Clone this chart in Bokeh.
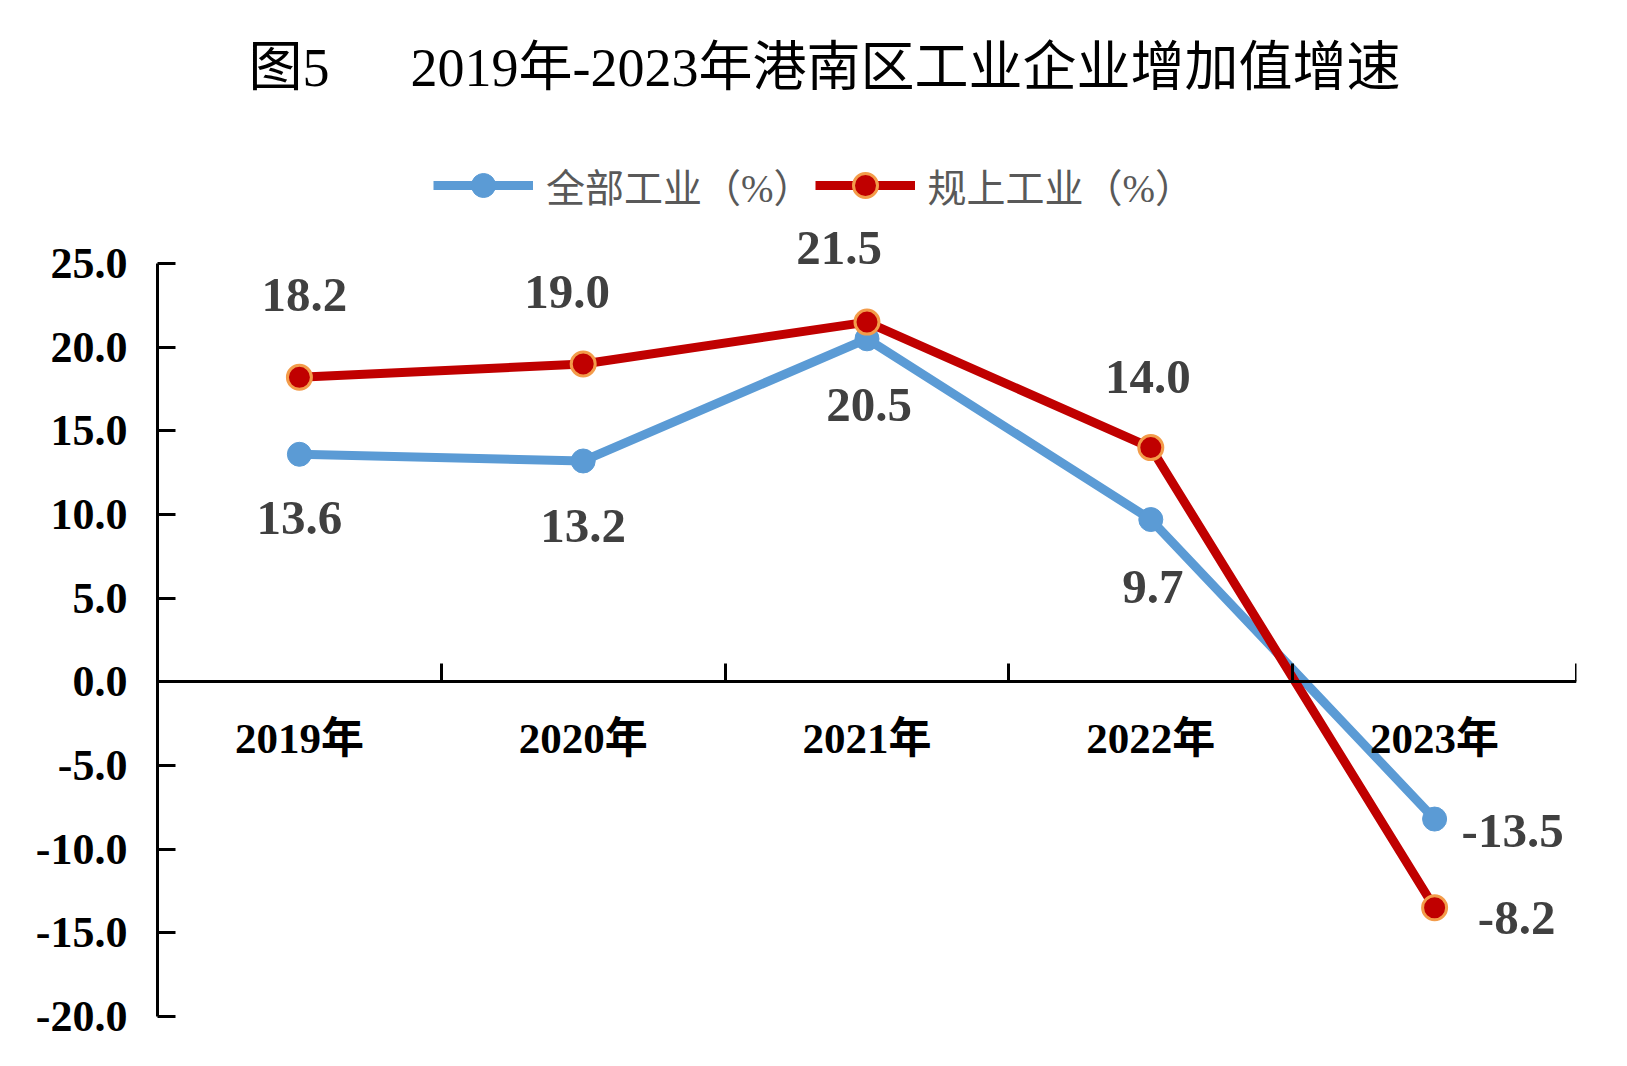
from bokeh.plotting import figure
from bokeh.models import (LinearAxis, FixedTicker, PrintfTickFormatter, Legend, LegendItem,
                          Label, ColumnDataSource, Range1d)
from bokeh.core.properties import value
from bokeh.embed import file_html
from bokeh.resources import INLINE

# ---------------- data ----------------
categories = ["2019年", "2020年", "2021年", "2022年", "2023年"]
all_industry = [13.6, 13.2, 20.5, 9.7, -8.2]          # 全部工业
above_scale = [18.2, 19.0, 21.5, 14.0, -13.5]         # 规上工业
all_labels = ["13.6", "13.2", "20.5", "9.7", "-13.5"]
above_labels = ["18.2", "19.0", "21.5", "14.0", "-8.2"]
y_ticks = [-20, -15, -10, -5, 0, 5, 10, 15, 20, 25]
series_names = ["全部工业（%）", "规上工业（%）"]
title_text = "图5\u3000\u00a0\u00a02019年-2023年港南区工业企业增加值增速"

# ---------------- style ----------------
BLUE = "#5B9BD5"
RED = "#C00000"
ORANGE = "#F39C4A"
NUM_FONT = "'Liberation Serif', 'Noto Sans CJK SC'"
CJK_FONT = "'Liberation Serif', 'Noto Sans CJK SC'"
blue_off_x = [0, 0, 2, 2, 78]
blue_off_y = [64, 65, 66, 67, 12]
red_off_x = [5, -16, -28, -3, 82]
red_off_y = [-82, -72, -74, -71, 10]

W, H = 1611, 1050
n = len(categories)
xs = [i + 0.5 for i in range(n)]

p = figure(width=W, height=H, x_range=Range1d(0, n), y_range=Range1d(-20, 40.72),
           output_backend="svg", toolbar_location=None,
           x_axis_type=None, y_axis_type=None,
           min_border_left=157, min_border_right=35, min_border_top=0, min_border_bottom=34)
p.outline_line_color = None
p.background_fill_color = "white"

# y axis
yax = LinearAxis(ticker=FixedTicker(ticks=y_ticks), formatter=PrintfTickFormatter(format="%.1f"),
                 bounds=(min(y_ticks), max(y_ticks)),
                 axis_line_width=3, axis_line_color="black",
                 major_tick_in=18, major_tick_out=0, major_tick_line_width=3,
                 major_tick_line_color="black", minor_tick_line_color=None,
                 major_label_text_font=NUM_FONT, major_label_text_font_size="44px",
                 major_label_text_font_style="bold", major_label_text_color="black",
                 major_label_standoff=30)
p.add_layout(yax, "left")

# x axis at zero
xax = LinearAxis(fixed_location=0,
                 ticker=FixedTicker(ticks=xs, minor_ticks=list(range(0, n + 1))),
                 major_label_overrides={x: c for x, c in zip(xs, categories)},
                 axis_line_width=3, axis_line_color="black",
                 major_tick_in=0, major_tick_out=0, major_tick_line_color=None,
                 minor_tick_in=18, minor_tick_out=0, minor_tick_line_width=3,
                 minor_tick_line_color="black",
                 major_label_text_font=CJK_FONT, major_label_text_font_size="43px",
                 major_label_text_font_style="bold", major_label_text_color="black",
                 major_label_standoff=33)
p.add_layout(xax, "below")

src = ColumnDataSource(dict(x=xs, blue=all_industry, red=above_scale,
                            blabel=all_labels, rlabel=above_labels,
                            bx=blue_off_x, by=blue_off_y, rx=red_off_x, ry=red_off_y))

bl = p.line("x", "blue", source=src, line_color=BLUE, line_width=9)
bs = p.scatter("x", "blue", source=src, size=24, fill_color=BLUE, line_color=BLUE, line_width=1)
rl = p.line("x", "red", source=src, line_color=RED, line_width=9)
rs = p.scatter("x", "red", source=src, size=24, fill_color=RED, line_color=ORANGE, line_width=3)

p.text("x", "blue", text="blabel", source=src, x_offset="bx", y_offset="by",
       text_align="center", text_baseline="middle",
       text_font=value(NUM_FONT), text_font_size="49px", text_font_style="bold",
       text_color="#404040")
p.text("x", "red", text="rlabel", source=src, x_offset="rx", y_offset="ry",
       text_align="center", text_baseline="middle",
       text_font=value(NUM_FONT), text_font_size="49px", text_font_style="bold",
       text_color="#404040")

legend = Legend(items=[LegendItem(label=series_names[0], renderers=[bl, bs]),
                       LegendItem(label=series_names[1], renderers=[rl, rs])],
                location=(276, 801), orientation="horizontal",
                border_line_color=None, background_fill_alpha=0,
                padding=0, margin=0, spacing=2,
                glyph_width=100, glyph_height=60, label_standoff=13,
                label_text_font=CJK_FONT, label_text_font_size="39px",
                label_text_color="#595959", label_text_baseline="middle")
p.add_layout(legend)

title = Label(x=667, y=949, x_units="screen", y_units="screen", text=title_text,
              text_align="center", text_baseline="middle",
              text_font=CJK_FONT, text_font_size="54px", text_color="black")
p.add_layout(title)

open("out.html", "w").write(file_html(p, INLINE))
